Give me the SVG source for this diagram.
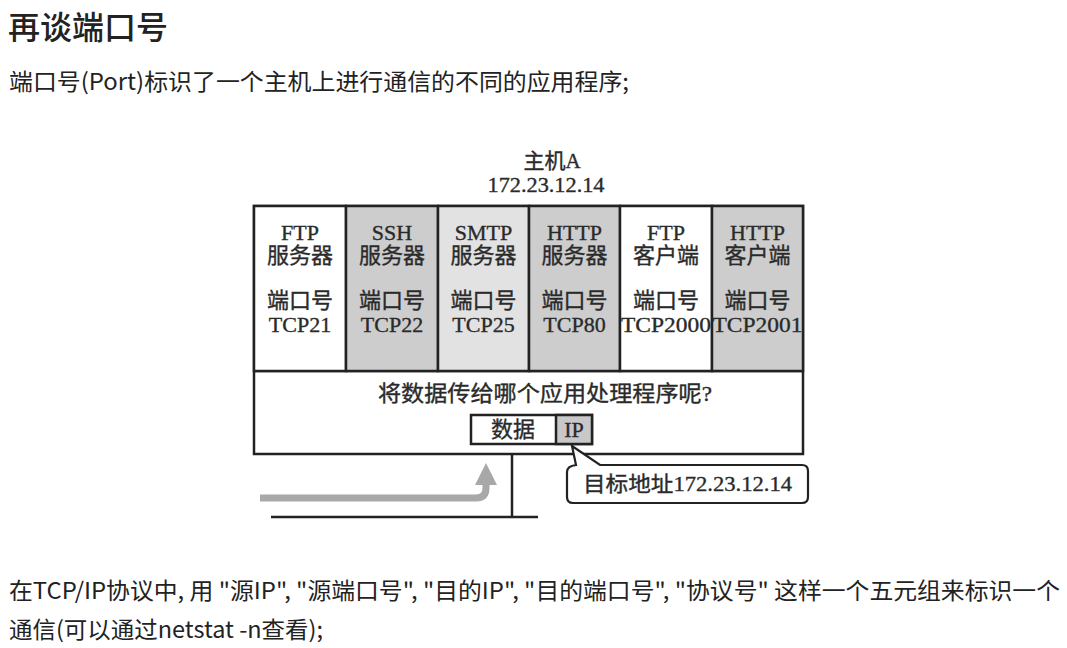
<svg xmlns="http://www.w3.org/2000/svg" width="1067" height="648" viewBox="0 0 1067 648">
<style>
.page{font-family:"Noto Sans CJK SC","Noto Sans",sans-serif;fill:#222;}
.dg{font-family:"Liberation Serif","Noto Sans CJK SC",serif;fill:#2a2a2a;stroke:#2a2a2a;stroke-width:0.35;text-anchor:middle;}
.ln{stroke:#222;stroke-width:2.5;fill:none;}
.box{stroke:#222;stroke-width:2.5;}
</style>
<rect width="1067" height="648" fill="#fff"/>
<g id="title">
<text class="page" x="8" y="39" font-size="32" font-weight="500" textLength="160" lengthAdjust="spacingAndGlyphs">再谈端口号</text>
</g>
<g id="intro">
<text class="page" x="9" y="90" font-size="23" textLength="620" lengthAdjust="spacingAndGlyphs">端口号(Port)标识了一个主机上进行通信的不同的应用程序;</text>
</g>
<g id="host-label">
<text class="dg" x="552" y="168" font-size="21">主机A</text>
<text class="dg" x="546" y="192" font-size="21" textLength="117" lengthAdjust="spacingAndGlyphs">172.23.12.14</text>
</g>
<g id="host-box">
<rect class="box" x="254" y="206" width="549" height="248" fill="#fff"/>
<line class="ln" x1="254" y1="371" x2="803" y2="371"/>
</g>
<g id="col-ftp-server">
<rect class="box" x="254" y="206" width="92" height="165" fill="#fff"/>
<text class="dg" x="300" y="240" font-size="22">FTP</text>
<text class="dg" x="300" y="263" font-size="22">服务器</text>
<text class="dg" x="300" y="308" font-size="22">端口号</text>
<text class="dg" x="300" y="332" font-size="22">TCP21</text>
</g>
<g id="col-ssh-server">
<rect class="box" x="346" y="206" width="92" height="165" fill="#cdcdcd"/>
<text class="dg" x="392" y="240" font-size="22">SSH</text>
<text class="dg" x="392" y="263" font-size="22">服务器</text>
<text class="dg" x="392" y="308" font-size="22">端口号</text>
<text class="dg" x="392" y="332" font-size="22">TCP22</text>
</g>
<g id="col-smtp-server">
<rect class="box" x="438" y="206" width="91" height="165" fill="#e2e2e2"/>
<text class="dg" x="483.5" y="240" font-size="22">SMTP</text>
<text class="dg" x="483.5" y="263" font-size="22">服务器</text>
<text class="dg" x="483.5" y="308" font-size="22">端口号</text>
<text class="dg" x="483.5" y="332" font-size="22">TCP25</text>
</g>
<g id="col-http-server">
<rect class="box" x="529" y="206" width="91" height="165" fill="#cdcdcd"/>
<text class="dg" x="574.5" y="240" font-size="22">HTTP</text>
<text class="dg" x="574.5" y="263" font-size="22">服务器</text>
<text class="dg" x="574.5" y="308" font-size="22">端口号</text>
<text class="dg" x="574.5" y="332" font-size="22">TCP80</text>
</g>
<g id="col-ftp-client">
<rect class="box" x="620" y="206" width="92" height="165" fill="#fff"/>
<text class="dg" x="666" y="240" font-size="22">FTP</text>
<text class="dg" x="666" y="263" font-size="22">客户端</text>
<text class="dg" x="666" y="308" font-size="22">端口号</text>
<text class="dg" x="666" y="332" font-size="22" textLength="90" lengthAdjust="spacingAndGlyphs">TCP2000</text>
</g>
<g id="col-http-client">
<rect class="box" x="712" y="206" width="91" height="165" fill="#cdcdcd"/>
<text class="dg" x="757.5" y="240" font-size="22">HTTP</text>
<text class="dg" x="757.5" y="263" font-size="22">客户端</text>
<text class="dg" x="757.5" y="308" font-size="22">端口号</text>
<text class="dg" x="757.5" y="332" font-size="22" textLength="90" lengthAdjust="spacingAndGlyphs">TCP2001</text>
</g>
<g id="question">
<text class="dg" x="545" y="401" font-size="22" textLength="334" lengthAdjust="spacingAndGlyphs">将数据传给哪个应用处理程序呢?</text>
</g>
<g id="packet">
<rect class="box" x="471" y="415" width="121" height="29" fill="#fff"/>
<rect class="box" x="556" y="415" width="36" height="29" fill="#c8c8c8"/>
<text class="dg" x="513" y="437" font-size="22">数据</text>
<text class="dg" x="574" y="437" font-size="22">IP</text>
</g>
<g id="network">
<line class="ln" x1="271" y1="517" x2="538" y2="517" stroke-width="3"/>
</g>
<g id="connectors">
<line class="ln" x1="512" y1="454" x2="512" y2="517"/>
<path d="M260,498 H476 Q486,498 486,488 V483" fill="none" stroke="#a8a8a8" stroke-width="7"/>
<polygon points="475,485 497,485 486,463" fill="#a8a8a8"/>
</g>
<g id="callout">
<path d="M572,446 L600,465 H802 Q808,465 808,471 V497 Q808,503 802,503 H573 Q567,503 567,497 V472 Q567,466 576,465 Z" fill="#fff" stroke="#222" stroke-width="2.2"/>
<text class="dg" x="687.5" y="491" font-size="21" textLength="209" lengthAdjust="spacingAndGlyphs">目标地址172.23.12.14</text>
</g>
<g id="footer">
<text class="page" x="9" y="599" font-size="23" textLength="1051" lengthAdjust="spacingAndGlyphs">在TCP/IP协议中, 用 "源IP", "源端口号", "目的IP", "目的端口号", "协议号" 这样一个五元组来标识一个</text>
<text class="page" x="9" y="638" font-size="23" textLength="314" lengthAdjust="spacingAndGlyphs">通信(可以通过netstat -n查看);</text>
</g>
</svg>
